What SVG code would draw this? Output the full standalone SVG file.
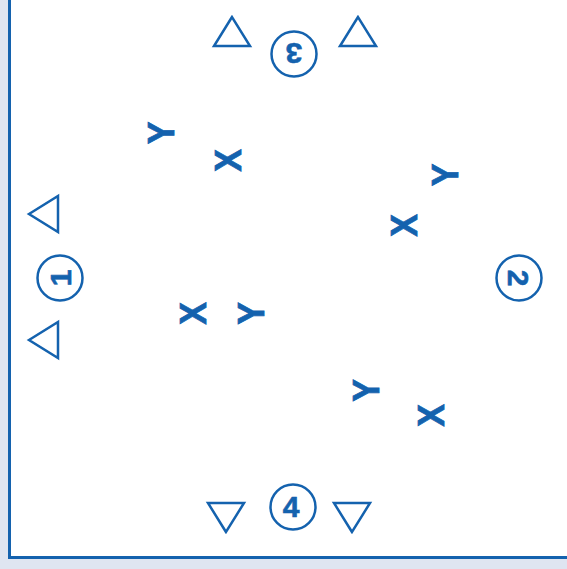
<svg xmlns="http://www.w3.org/2000/svg" width="567" height="569" viewBox="0 0 567 569">
<style>
.tri{fill:none;stroke:#1462ae;stroke-width:2.5;stroke-linejoin:miter}
.ring{fill:#fff;stroke:#1462ae;stroke-width:2.5}
.num{font-family:"Liberation Sans",Arial,sans-serif;font-weight:bold;font-size:30px;fill:#1462ae;stroke:#1462ae;stroke-width:0.6;text-anchor:middle}
.mk{font-family:"Liberation Sans",Arial,sans-serif;font-weight:bold;font-size:37px;fill:#1462ae;stroke:#1462ae;stroke-width:0.8;text-anchor:middle}
</style>
<rect x="0" y="0" width="567" height="569" fill="#dfe5f1"/>
<rect x="9.5" y="-5" width="570" height="562.5" fill="#fff" stroke="#1462ae" stroke-width="3"/>
<g id="connectors"></g>
<g id="triangles">
<polygon class="tri" points="232,17 214,46 250,46"/>
<polygon class="tri" points="358,17 340,46 376,46"/>
<polygon class="tri" points="29,214 58,196 58,232"/>
<polygon class="tri" points="29,340 58,322 58,358"/>
<polygon class="tri" points="226,532 208,503 244,503"/>
<polygon class="tri" points="352,532 334,503 370,503"/>
</g>
<g id="p1"><circle class="ring" cx="60" cy="278" r="22.5"/><text class="num" transform="translate(60,278) rotate(-90)" y="10.7">1</text></g>
<g id="p2"><circle class="ring" cx="519" cy="278" r="22.5"/><text class="num" transform="translate(519,278) rotate(90)" y="10.7">2</text></g>
<g id="p3"><circle class="ring" cx="294" cy="54" r="22.5"/><text class="num" transform="translate(294,54) rotate(180)" y="10.7">3</text></g>
<g id="p4"><circle class="ring" cx="293" cy="507" r="22.5"/><text class="num" x="291" y="517">4</text></g>
<g id="marks">
<text class="mk" transform="translate(161,133) rotate(-90) scale(0.92,1)" y="13.2">Y</text>
<text class="mk" transform="translate(228,160.5) rotate(-90) scale(0.92,1)" y="13.2">X</text>
<text class="mk" transform="translate(444.5,175) rotate(-90) scale(0.92,1)" y="13.2">Y</text>
<text class="mk" transform="translate(404,225.5) rotate(-90) scale(0.92,1)" y="13.2">X</text>
<text class="mk" transform="translate(193,313.5) rotate(-90) scale(0.92,1)" y="13.2">X</text>
<text class="mk" transform="translate(251,313.5) rotate(-90) scale(0.92,1)" y="13.2">Y</text>
<text class="mk" transform="translate(365.5,390.5) rotate(-90) scale(0.92,1)" y="13.2">Y</text>
<text class="mk" transform="translate(431,415.5) rotate(-90) scale(0.92,1)" y="13.2">X</text>
</g>
</svg>
